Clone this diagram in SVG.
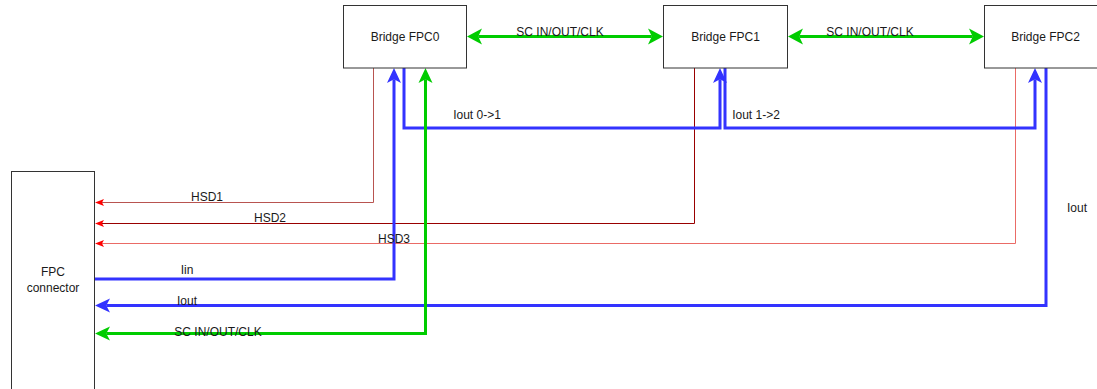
<svg xmlns="http://www.w3.org/2000/svg" width="1097" height="389" viewBox="0 0 1097 389">
<style>
.box{fill:#fff;stroke:#333;stroke-width:1}
.t{font-family:"Liberation Sans",Arial,sans-serif;font-size:12px;fill:#1a1a1a;text-anchor:middle}
.w{fill:none;stroke-linejoin:miter}
.blue{stroke:#3333FF;stroke-width:3}
.green{stroke:#00CC00;stroke-width:3}
.h1{stroke:#B85450;stroke-width:1}
.h2{stroke:#990000;stroke-width:1}
.h3{stroke:#EA6B66;stroke-width:1}
</style>
<defs>
<marker id="aR" markerUnits="userSpaceOnUse" markerWidth="10" markerHeight="8" refX="2" refY="3.5" orient="auto-start-reverse" overflow="visible">
<path d="M0,0 L9,3.5 L0,7 L2,3.5 Z" fill="#FF0000"/>
</marker>
<marker id="aB" markerUnits="userSpaceOnUse" markerWidth="16" markerHeight="15" refX="3.75" refY="7" orient="auto-start-reverse" overflow="visible">
<path d="M0,0 L15,7 L0,14 L3.75,7 Z" fill="#3333FF"/>
</marker>
<marker id="aG" markerUnits="userSpaceOnUse" markerWidth="16" markerHeight="15" refX="3.75" refY="7" orient="auto-start-reverse" overflow="visible">
<path d="M0,0 L15,7 L0,14 L3.75,7 Z" fill="#00CC00"/>
</marker>
<marker id="aG2" markerUnits="userSpaceOnUse" markerWidth="16" markerHeight="17" refX="3.75" refY="8" orient="auto-start-reverse" overflow="visible">
<path d="M0,0 L15,8 L0,16 L3.75,8 Z" fill="#00CC00"/>
</marker>
</defs>
<g id="connectors">
<path class="w h1" d="M373.5,68 V202.5 H102" marker-end="url(#aR)"/>
<path class="w h2" d="M694.5,68 V223.5 H102" marker-end="url(#aR)"/>
<path class="w h3" d="M1015.5,68 V243.5 H102" marker-end="url(#aR)"/>
<path class="w blue" d="M95,279 H394 V79.25" marker-end="url(#aB)"/>
<path class="w blue" d="M404,68 V128 H720 V79.25" marker-end="url(#aB)"/>
<path class="w blue" d="M725,68 V128 H1035 V79.25" marker-end="url(#aB)"/>
<path class="w blue" d="M1046,68 V305.5 H106.25" marker-end="url(#aB)"/>
<path class="w green" d="M106.25,333.5 H425.5 V79.25" marker-start="url(#aG)" marker-end="url(#aG)"/>
<path class="w green" d="M478.25,36.5 H651.75" marker-start="url(#aG2)" marker-end="url(#aG2)"/>
<path class="w green" d="M799.25,36.5 H972.75" marker-start="url(#aG2)" marker-end="url(#aG2)"/>
<text class="t" x="560" y="35.5">SC IN/OUT/CLK</text>
<text class="t" x="870" y="35.5">SC IN/OUT/CLK</text>
<text class="t" x="477" y="118.5">Iout 0-&gt;1</text>
<text class="t" x="756" y="118.5">Iout 1-&gt;2</text>
<text class="t" x="207" y="201">HSD1</text>
<text class="t" x="270" y="222">HSD2</text>
<text class="t" x="394" y="242.5">HSD3</text>
<text class="t" x="187" y="273.5">Iin</text>
<text class="t" x="187" y="304.5">Iout</text>
<text class="t" x="218" y="335.5">SC IN/OUT/CLK</text>
<text class="t" x="1077" y="211.5">Iout</text>
</g>
<g id="fpc0">
<rect class="box" x="343.5" y="5.5" width="123" height="62.5"/>
<text class="t" x="405" y="40.5">Bridge FPC0</text>
</g>
<g id="fpc1">
<rect class="box" x="663.5" y="5.5" width="124" height="62.5"/>
<text class="t" x="725.5" y="40.5">Bridge FPC1</text>
</g>
<g id="fpc2">
<rect class="box" x="984.5" y="5.5" width="124" height="62.5"/>
<text class="t" x="1045.5" y="40.5">Bridge FPC2</text>
</g>
<g id="fpc-connector">
<rect class="box" x="11.5" y="171.5" width="83" height="230"/>
<text class="t" x="53" y="276">FPC</text>
<text class="t" x="53" y="292">connector</text>
</g>
</svg>
